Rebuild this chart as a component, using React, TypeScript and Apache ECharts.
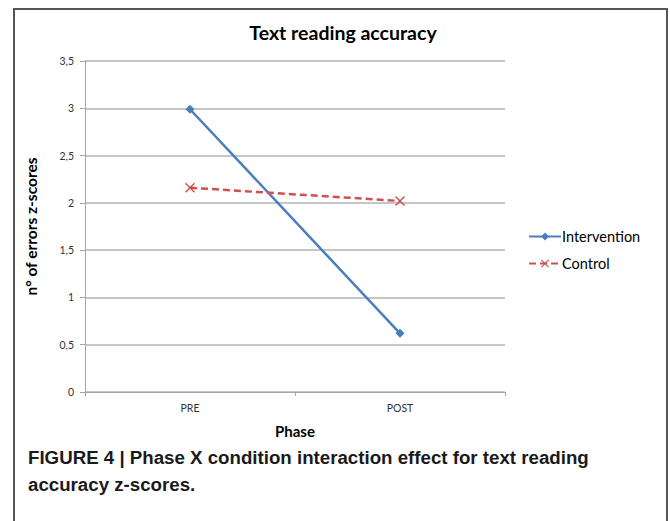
import React, { useEffect, useRef } from "react";
import * as echarts from "echarts";

const categories = ["PRE", "POST"];
const interventionValues = [2.99, 0.62];
const controlValues = [2.16, 2.02];
const yTicks = { min: 0, max: 3.5, interval: 0.5 };

const crossPath =
  "path://M0,1L1,0L5,4L9,0L10,1L6,5L10,9L9,10L5,6L1,10L0,9L4,5Z";

export default function App() {
  const ref = useRef<HTMLDivElement>(null);
  useEffect(() => {
    if (!ref.current) return;
    const chart = echarts.init(ref.current, null, { renderer: "svg" });
    const font = "Lato, 'Open Sans', sans-serif";
    chart.setOption({
      animation: false,
      backgroundColor: "#ffffff",
      title: {
        text: "Text reading accuracy",
        left: 338,
        top: 17,
        textAlign: "center",
        textStyle: { fontFamily: font, fontSize: 19.5, fontWeight: "bold", color: "#000" },
      },
      grid: { left: 85, right: 165, top: 61, bottom: 129, containLabel: false },
      legend: {
        orient: "vertical",
        left: 523,
        top: 224,
        itemWidth: 32,
        itemHeight: 10,
        itemGap: 12,
        textStyle: { fontFamily: font, fontSize: 14.5, color: "#000", padding: [0, 0, 0, -4] },
        data: ["Intervention", "Control"],
      },
      xAxis: {
        type: "category",
        data: categories,
        name: "Phase",
        nameLocation: "middle",
        nameGap: 31,
        nameTextStyle: { fontFamily: font, fontSize: 15, fontWeight: "bold", color: "#000" },
        axisLine: { lineStyle: { color: "#a6a6a6", width: 1 } },
        axisTick: { show: true, length: 4, lineStyle: { color: "#a6a6a6" } },
        axisLabel: { fontFamily: font, fontSize: 10.5, color: "#333", margin: 10 },
      },
      yAxis: {
        type: "value",
        min: yTicks.min,
        max: yTicks.max,
        interval: yTicks.interval,
        name: "n° of errors z-scores",
        nameLocation: "middle",
        nameGap: 46,
        nameRotate: 90,
        nameTextStyle: { fontFamily: font, fontSize: 15.5, fontWeight: "bold", color: "#000" },
        axisLine: { show: true, lineStyle: { color: "#a6a6a6", width: 1 } },
        axisTick: { show: true, length: 5, lineStyle: { color: "#a6a6a6" } },
        axisLabel: {
          fontFamily: font,
          fontSize: 10.5,
          color: "#333",
          margin: 11,
          formatter: (v: number) => String(v).replace(".", ","),
        },
        splitLine: { lineStyle: { color: "#b3b3b3", width: 1.5 } },
      },
      series: [
        {
          name: "Intervention",
          type: "line",
          data: interventionValues,
          symbol: "diamond",
          symbolSize: 9,
          itemStyle: { color: "#4a7ebb" },
          lineStyle: { color: "#4a7ebb", width: 2.5 },
        },
        {
          name: "Control",
          type: "line",
          data: controlValues,
          symbol: crossPath,
          symbolSize: 10,
          itemStyle: { color: "#d0504d" },
          lineStyle: { color: "#d0504d", width: 2.5, type: [7, 4] },
        },
      ],
      graphic: [
        {
          type: "rect",
          shape: { x: 14, y: 9, width: 653, height: 530 },
          style: { fill: "none", stroke: "#555", lineWidth: 2 },
        },
        {
          type: "text",
          x: 28,
          y: 444,
          style: {
            text: "FIGURE 4 | Phase X condition interaction effect for text reading\naccuracy z-scores.",
            fontFamily: "'Liberation Sans', Arial, sans-serif",
            fontWeight: "bold",
            fontSize: 18.7,
            lineHeight: 27,
            fill: "#1a1a1a",
          },
        },
      ],
    });
    return () => chart.dispose();
  }, []);
  return (
    <div
      ref={ref}
      style={{ position: "fixed", left: 0, top: 0, width: 670, height: 521 }}
    />
  );
}
